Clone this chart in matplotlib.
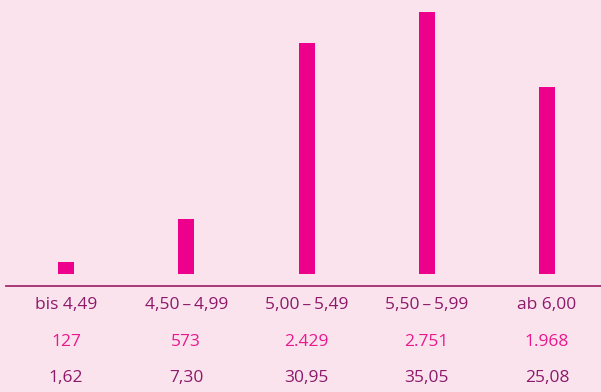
import matplotlib
matplotlib.use('Agg')
import matplotlib.pyplot as plt
from matplotlib.lines import Line2D
import matplotlib.transforms as mtransforms

plt.rcParams['font.family'] = ['Open Sans', 'DejaVu Sans']

# Daten
klassen = ['bis 4,49', '4,50\u2009\u2013\u20094,99', '5,00\u2009\u2013\u20095,49',
           '5,50\u2009\u2013\u20095,99', 'ab 6,00']
anzahl = [127, 573, 2429, 2751, 1968]
anzahl_txt = ['127', '573', '2.429', '2.751', '1.968']
prozent = ['1,62', '7,30', '30,95', '35,05', '25,08']

BG = '#fbe3ee'
PINK = '#ec008c'
DUNKEL = '#8c1a6a'
LINIE = '#a32a70'
FS = 12.5

W, H = 601, 392
fig = plt.figure(figsize=(W / 100, H / 100), dpi=100, facecolor=BG)

# Achse fuer die Balken (Unterkante bei y=274 px)
bottom_px = 274
ax = fig.add_axes([0, (H - bottom_px) / H, 1, bottom_px / H])
ax.set_facecolor(BG)
x = list(range(len(klassen)))
ax.bar(x, anzahl, width=16 / 120.25, color=PINK)
ax.set_xlim(-66 / 120.25, (W - 66) / 120.25)
ax.set_ylim(0, 2751 * bottom_px / 262)
ax.axis('off')

# Grundlinie
ly = (H - 285.5) / H
fig.add_artist(Line2D([6 / W, 1], [ly, ly], color=LINIE, lw=1.3,
                      transform=fig.transFigure))

# Textzeilen unter den Balken
trans = mtransforms.blended_transform_factory(ax.transData, fig.transFigure)
for i in x:
    ax.text(i, (H - 305) / H, klassen[i], transform=trans, ha='center',
            va='center', fontsize=FS, color=DUNKEL, clip_on=False)
    ax.text(i, (H - 342) / H, anzahl_txt[i], transform=trans, ha='center',
            va='center', fontsize=FS, color='#e8198c', clip_on=False)
    ax.text(i, (H - 378) / H, prozent[i], transform=trans, ha='center',
            va='center', fontsize=FS, color=DUNKEL, clip_on=False)

fig.savefig('out.png', dpi=100, facecolor=BG)
